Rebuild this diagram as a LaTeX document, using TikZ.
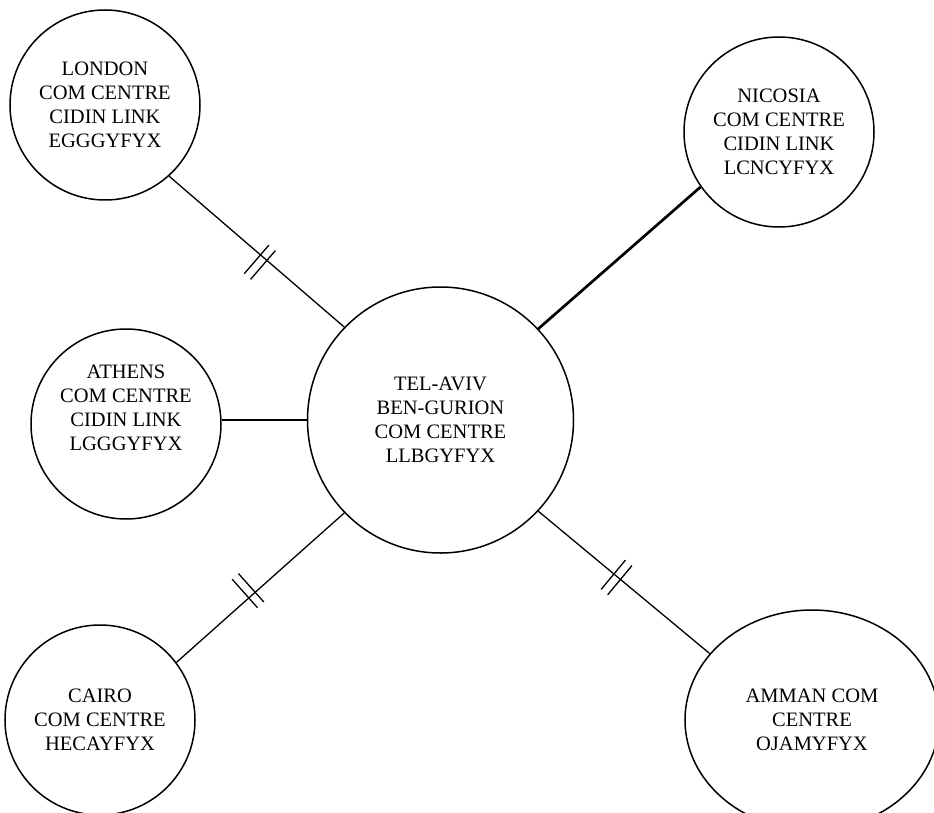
\documentclass[tikz,border=0pt]{standalone}
\usepackage{fontspec}
\setmainfont{Liberation Serif}
\usetikzlibrary{shapes.geometric,decorations.markings}
\tikzset{
  circ/.style={draw, circle, line width=1.5pt, inner sep=0pt, minimum size=190pt},
  txt/.style={align=center, font=\fontsize{20.5pt}{24pt}\selectfont, inner sep=0pt},
  thinline/.style={line width=1.3pt},
  thickline/.style={line width=2.7pt},
  dbl/.style n args={2}{postaction={decorate}, decoration={markings, mark=at position #1 with {
      \draw[thinline] (-4.25pt,{#2-19pt}) -- (-4.25pt,{#2+19pt});
      \draw[thinline] (4.25pt,{#2-19pt}) -- (4.25pt,{#2+19pt});}}}
}
\begin{document}
\begin{tikzpicture}[x=1pt,y=-1pt]
\useasboundingbox (0,0) rectangle (934,813);
\node[circ, txt] (london) at (105,105) {LONDON\\COM CENTRE\\CIDIN LINK\\EGGGYFYX};
\node[circ, txt] (nicosia) at (779,132) {NICOSIA\\COM CENTRE\\CIDIN LINK\\LCNCYFYX};
\node[circ] (athens) at (126,424) {};
\node[txt] (athenstxt) at (126,408) {ATHENS\\COM CENTRE\\CIDIN LINK\\LGGGYFYX};
\node[circ, txt, minimum size=266pt] (ta) at (440.5,420) {TEL-AVIV\\BEN-GURION\\COM CENTRE\\LLBGYFYX};
\node[circ, txt] (cairo) at (100,720) {CAIRO\\COM CENTRE\\HECAYFYX};
\node[draw, ellipse, line width=1.5pt, inner sep=0pt, minimum width=254pt, minimum height=220pt, txt] (amman) at (812,720) {AMMAN COM\\CENTRE\\OJAMYFYX};

\draw[thinline, dbl={0.54}{-6pt}] (london.-48.8) -- (ta.136.3);
\draw[thickline] (ta.43.8) -- (nicosia.215.3);
\draw[thickline] (ta.180) -- (ta.180 -| athens.east);
\draw[thinline, dbl={0.45}{6pt}] (cairo.37.7) -- (ta.224.7);
\draw[thinline, dbl={0.46}{-1pt}] (ta.-43.2) -- (amman.147.8);
\end{tikzpicture}
\end{document}
